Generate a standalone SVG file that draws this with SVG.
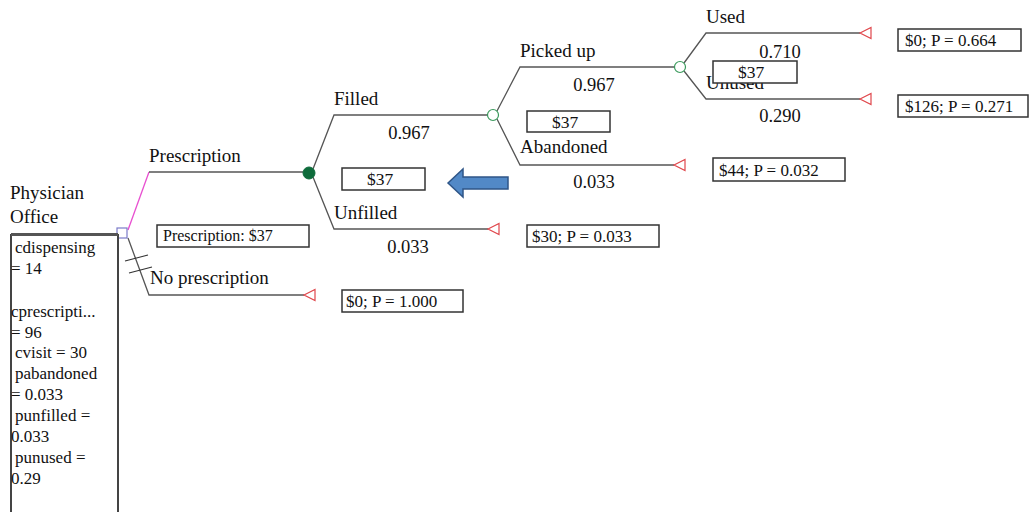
<svg xmlns="http://www.w3.org/2000/svg" width="1031" height="512" viewBox="0 0 1031 512">
<defs>
<style>
text{font-family:"Liberation Serif","Times New Roman",serif;fill:#111}
.lbl{font-size:19px}
.prob{font-size:18.5px;text-anchor:middle}
.var{font-size:17px}
.val{font-size:17px}
.vc{font-size:17.5px;text-anchor:middle}
.br{fill:none;stroke:#555;stroke-width:1.3}
.box{fill:#fff;stroke:#333;stroke-width:1.5}
.term{fill:#fff;stroke:#e0474c;stroke-width:1.2}
.chance{fill:#fff;stroke:#3a9a5c;stroke-width:1.2}
</style>
</defs>
<rect width="1031" height="512" fill="#fff"/>
<g id="connectors">
<path d="M128,230 L149,172" fill="none" stroke="#e84fd0" stroke-width="1.3"/>
<path class="br" d="M149,172 L303,172"/>
<path class="br" d="M128,238 L149,295 L304,295"/>
<path d="M125,261 L148,255 M129,273 L152,267" stroke="#333" stroke-width="1.2" fill="none"/>
<path class="br" d="M313,169 L334,115 L488,115"/>
<path class="br" d="M313,177 L334,229 L488,229"/>
<path class="br" d="M497,111 L520,67 L675,67"/>
<path class="br" d="M497,119 L520,165 L674,165"/>
<path class="br" d="M684,63 L706,33 L860,33"/>
<path class="br" d="M684,71 L706,99 L860,99"/>
</g>
<g id="root">
<rect x="117" y="228" width="10" height="10" fill="#fff" stroke="#7a7ac8" stroke-width="1.2"/>
<text class="lbl" x="10" y="199">Physician</text>
<text class="lbl" x="10" y="223">Office</text>
</g>
<g id="variables">
<path d="M11,512 L11,235 L118,235 L118,512" fill="#fff" stroke="#444" stroke-width="2"/>
<path d="M11,234.5 L118,234.5" stroke="#555" stroke-width="3"/>
<text class="var" x="15" y="253">cdispensing</text>
<text class="var" x="11" y="274">= 14</text>
<text class="var" x="11" y="317">cprescripti...</text>
<text class="var" x="11" y="338">= 96</text>
<text class="var" x="15" y="358">cvisit = 30</text>
<text class="var" x="15" y="379">pabandoned</text>
<text class="var" x="11" y="400">= 0.033</text>
<text class="var" x="15" y="421">punfilled =</text>
<text class="var" x="11" y="442">0.033</text>
<text class="var" x="15" y="463">punused =</text>
<text class="var" x="11" y="484">0.29</text>
</g>
<g id="prescription">
<text class="lbl" x="149" y="162">Prescription</text>
<rect class="box" x="157" y="225" width="152" height="22"/>
<text x="163" y="241" font-size="16px">Prescription: $37</text>
<circle cx="309" cy="173" r="6" fill="#0e6b3b" stroke="#0e6b3b"/>
</g>
<g id="no-prescription">
<text class="lbl" x="150" y="284">No prescription</text>
<path class="term" d="M304,295 L315,289.5 L315,300.5 Z"/>
<rect class="box" x="342" y="290" width="121" height="22"/>
<text class="val" x="346" y="307">$0; P = 1.000</text>
</g>
<g id="filled">
<text class="lbl" x="334" y="105">Filled</text>
<text class="prob" x="409" y="139">0.967</text>
<rect class="box" x="342" y="168" width="83" height="22"/>
<text class="vc" x="380" y="185">$37</text>
<circle class="chance" cx="493" cy="115" r="5.5"/>
</g>
<g id="unfilled">
<text class="lbl" x="334" y="219">Unfilled</text>
<text class="prob" x="408" y="253">0.033</text>
<path class="term" d="M488,229 L499,223.5 L499,234.5 Z"/>
<rect class="box" x="527" y="225" width="132" height="22"/>
<text class="val" x="532" y="242">$30; P = 0.033</text>
</g>
<g id="arrow">
<path d="M448,183 L463,169 L463,177 L508,177 L508,189 L463,189 L463,197 Z" fill="#5289c7" stroke="#2f5688" stroke-width="1.5"/>
</g>
<g id="picked-up">
<text class="lbl" x="520" y="57">Picked up</text>
<text class="prob" x="594" y="91">0.967</text>
<rect class="box" x="527" y="111" width="83" height="21"/>
<text class="vc" x="565" y="128">$37</text>
<circle class="chance" cx="680" cy="67" r="5.5"/>
</g>
<g id="abandoned">
<text class="lbl" x="520" y="153">Abandoned</text>
<text class="prob" x="594" y="188">0.033</text>
<path class="term" d="M674,165 L685,159.5 L685,170.5 Z"/>
<rect class="box" x="713" y="158" width="132" height="23"/>
<text class="val" x="719" y="176">$44; P = 0.032</text>
</g>
<g id="used">
<text class="lbl" x="706" y="23">Used</text>
<text class="prob" x="780" y="58">0.710</text>
<path class="term" d="M860,33 L871,27.5 L871,38.5 Z"/>
<rect class="box" x="898" y="29" width="123" height="22"/>
<text class="val" x="905" y="46">$0; P = 0.664</text>
</g>
<g id="unused">
<text class="lbl" x="706" y="89">Unused</text>
<rect class="box" x="713" y="61" width="84" height="22"/>
<text class="vc" x="751" y="78">$37</text>
<text class="prob" x="780" y="122">0.290</text>
<path class="term" d="M860,99 L871,93.5 L871,104.5 Z"/>
<rect class="box" x="898" y="95" width="130" height="22"/>
<text class="val" x="905" y="112">$126; P = 0.271</text>
</g>
</svg>
